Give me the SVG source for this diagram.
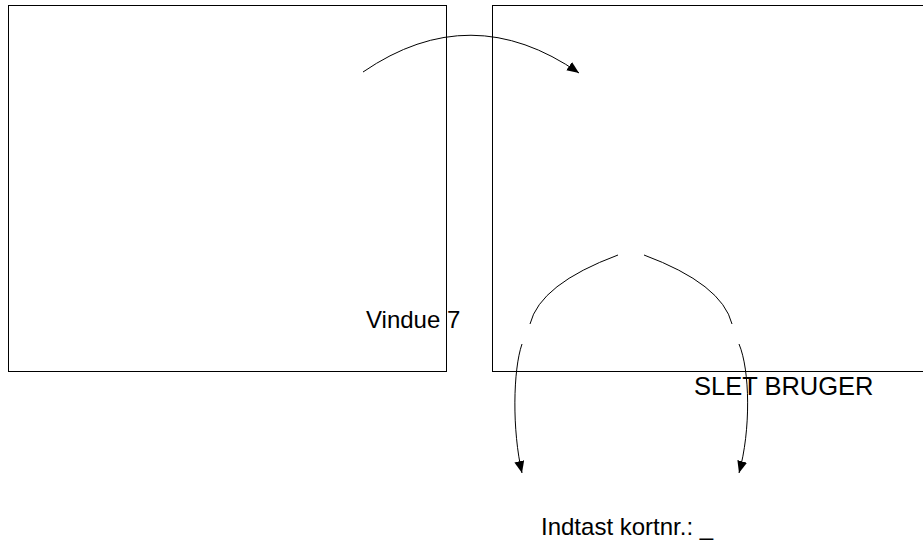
<svg xmlns="http://www.w3.org/2000/svg" width="923" height="556" viewBox="0 0 923 556">
<style>
.box{fill:#fff;stroke:#000;stroke-width:1}
.lbl{font-family:"Liberation Sans",Arial,sans-serif;font-size:24px;fill:#000}
.big{font-size:25.5px}
.con{fill:none;stroke:#000;stroke-width:1}
</style>
<defs>
<marker id="arr" markerUnits="userSpaceOnUse" markerWidth="13" markerHeight="11" refX="12" refY="5" orient="auto">
<path d="M0,0 L12,5 L0,10 z" fill="#000"/>
</marker>
</defs>
<rect width="923" height="556" fill="#fff"/>
<g id="window-left">
<rect class="box" x="8.5" y="5.5" width="438" height="366"/>
</g>
<g id="window-right">
<rect class="box" x="492.5" y="5.5" width="440" height="366"/>
</g>
<g id="connectors">
<path class="con" d="M363,72 Q471,-2 579,73" marker-end="url(#arr)"/>
<path class="con" d="M618,255 Q540,284 530,324"/>
<path class="con" d="M644,255 Q722,284 732,324"/>
<path class="con" d="M522,344 C513,370 512,430 522,473" marker-end="url(#arr)"/>
<path class="con" d="M739,344 C750,370 751,430 739,473" marker-end="url(#arr)"/>
</g>
<g id="label-vindue">
<text class="lbl" x="366" y="328">Vindue 7</text>
</g>
<g id="label-slet">
<text class="lbl big" x="694" y="395">SLET BRUGER</text>
</g>
<g id="label-indtast">
<text class="lbl" x="541" y="535">Indtast kortnr.: _</text>
</g>
</svg>
